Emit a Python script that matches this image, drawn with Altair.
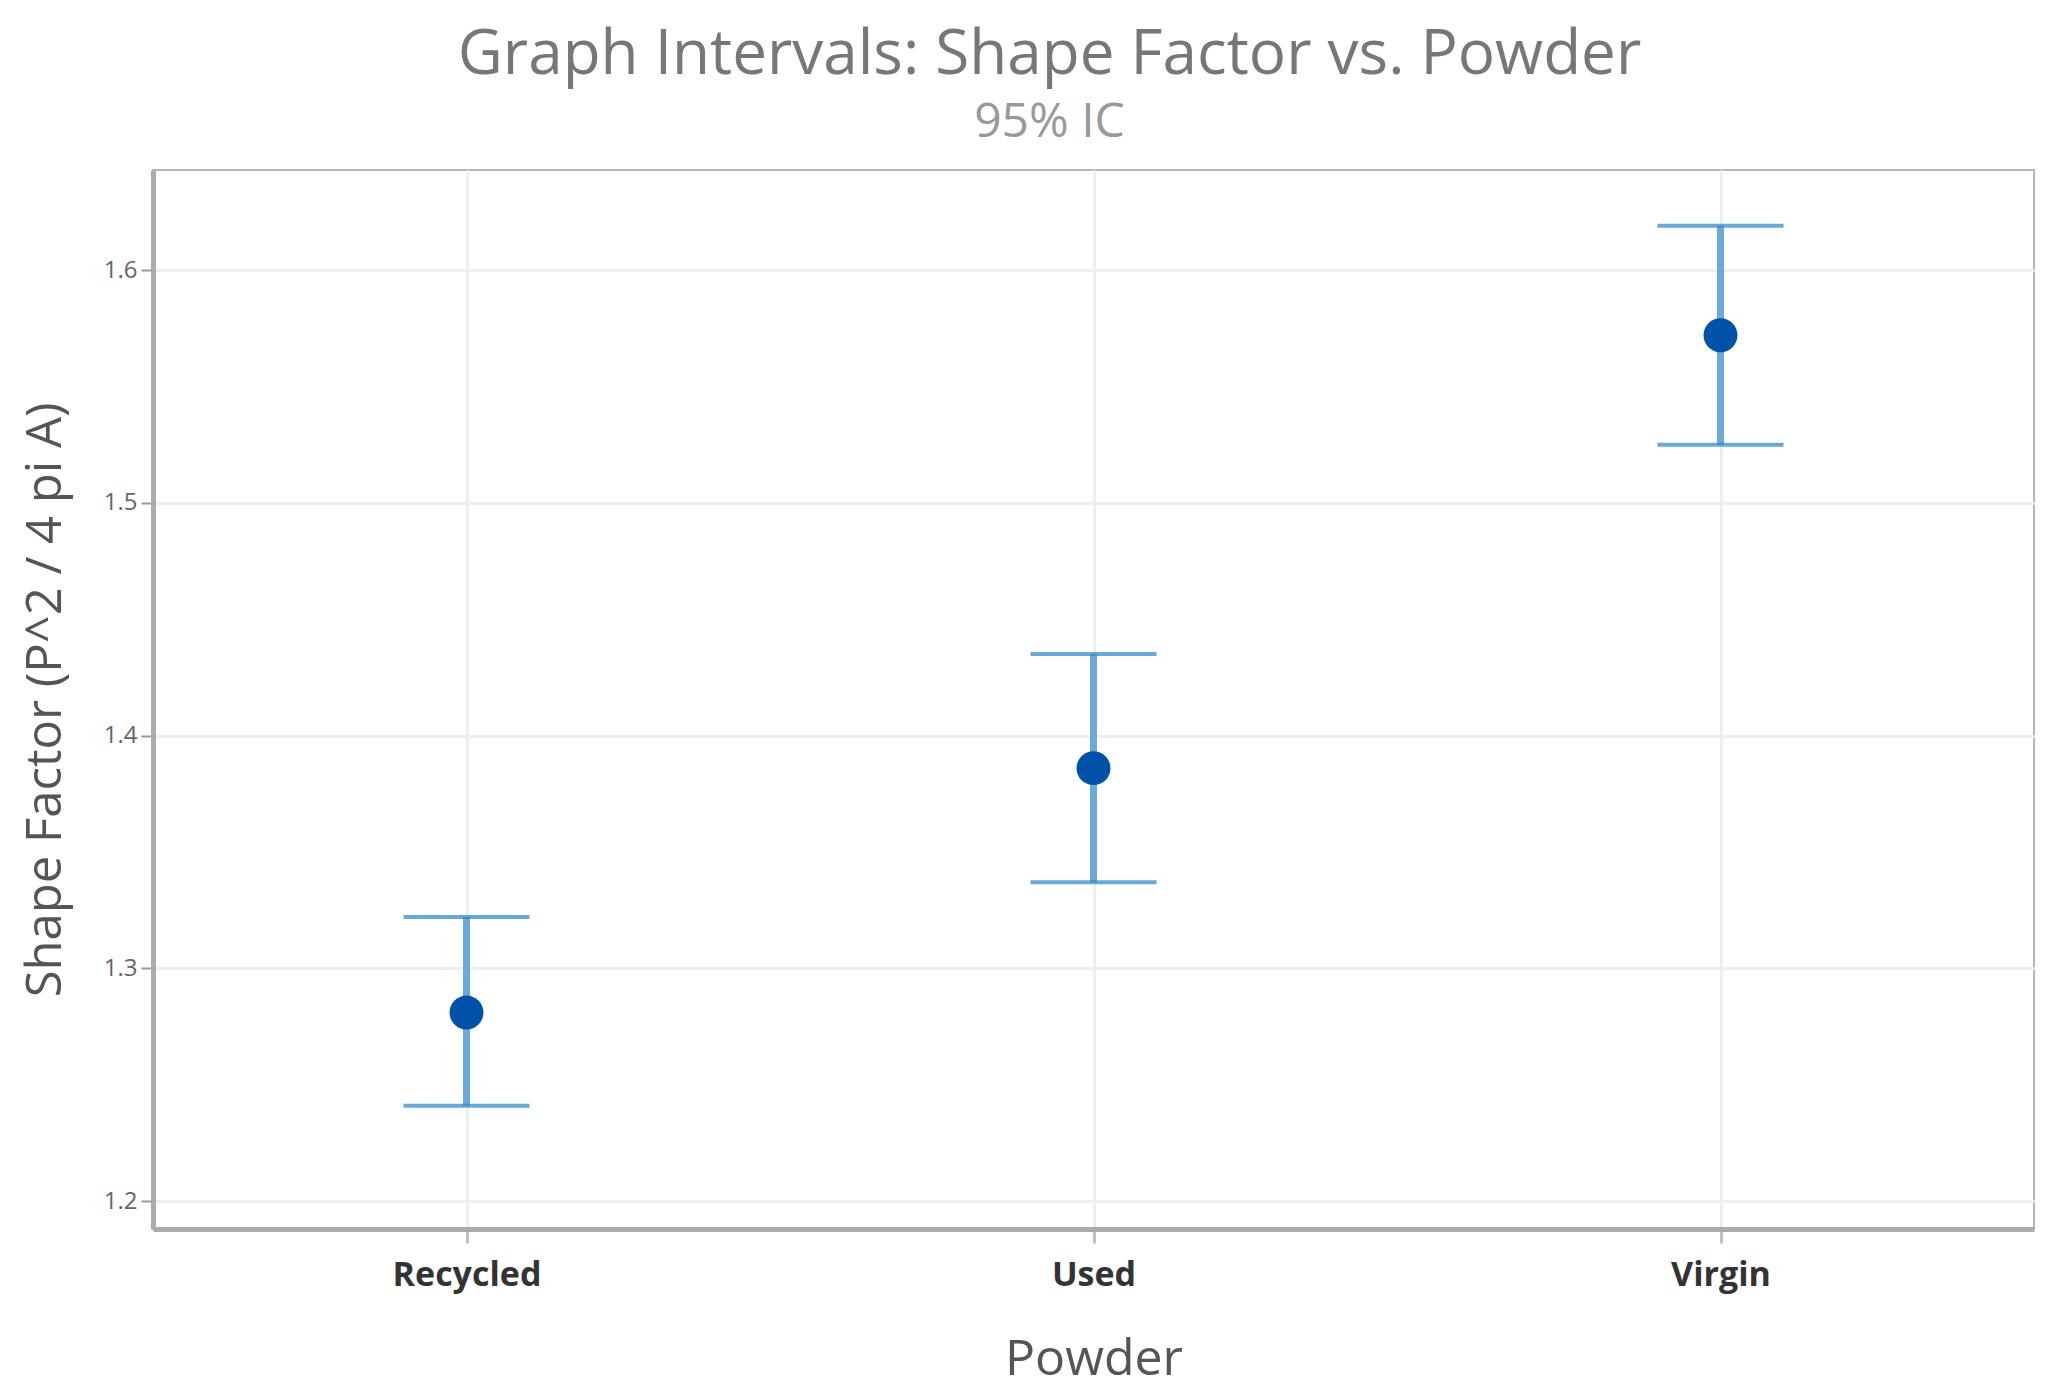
import altair as alt
import pandas as pd

powder = ["Recycled", "Used", "Virgin"]
mean_vals = [1.281, 1.386, 1.572]
lower_vals = [1.241, 1.337, 1.525]
upper_vals = [1.322, 1.435, 1.619]
y_ticks = [1.2, 1.3, 1.4, 1.5, 1.6]

df = pd.DataFrame({"Powder": powder, "mean": mean_vals, "lo": lower_vals, "hi": upper_vals})

FONT = "Open Sans"
x_enc = alt.X("Powder:N", sort=powder,
              scale=alt.Scale(type="point", padding=0.5),
              axis=alt.Axis(title="Powder", labelAngle=0, labelFontSize=34, labelColor="#333333",
                            labelFontWeight="bold", labelPadding=15, tickSize=14, tickColor="#c0c0c0",
                            tickWidth=3, titleFontSize=50, titleColor="#555555", titleFontWeight="normal",
                            titlePadding=42, grid=True, gridColor="#eeeeee", gridWidth=3,
                            domainColor="#ababab", domainWidth=5))
y_scale = alt.Scale(domain=[1.188, 1.643], nice=False, zero=False)
y_axis = alt.Axis(title="Shape Factor (P^2 / 4 pi A)", values=y_ticks, format=".1f",
                  labelFontSize=24, labelColor="#666666", labelPadding=4, tickSize=12,
                  tickColor="#999999", tickWidth=2, titleFontSize=49, titleColor="#555555",
                  titleFontWeight="normal", titlePadding=33, grid=True, gridColor="#eeeeee",
                  gridWidth=3, domainColor="#ababab", domainWidth=5)

base = alt.Chart(df)
rules = base.mark_rule(color="#6aaadb", strokeWidth=7).encode(
    x=x_enc, y=alt.Y("lo:Q", scale=y_scale, axis=y_axis), y2="hi:Q")
caps_hi = base.mark_tick(color="#2a84c8", orient="horizontal", size=126, thickness=4).encode(
    x=x_enc, y=alt.Y("hi:Q", scale=y_scale, axis=y_axis))
caps_lo = base.mark_tick(color="#2a84c8", orient="horizontal", size=126, thickness=4).encode(
    x=x_enc, y=alt.Y("lo:Q", scale=y_scale, axis=y_axis))
points = base.mark_circle(color="#0052a8", opacity=1, size=1150).encode(
    x=x_enc, y=alt.Y("mean:Q", scale=y_scale, axis=y_axis))

chart = (rules + caps_hi + caps_lo + points).properties(
    width=1881, height=1059,
    title=alt.TitleParams("Graph Intervals: Shape Factor vs. Powder", subtitle="95% IC",
                          fontSize=62, subtitleFontSize=48, color="#777777", subtitleColor="#999999",
                          fontWeight="normal", font=FONT, subtitleFont=FONT, anchor="middle",
                          frame="group", dx=-44, offset=22, subtitlePadding=12),
    padding={"left": 145, "top": 162, "right": 13, "bottom": 160},
    autosize=alt.AutoSizeParams(type="none"),
).configure(font=FONT).configure_view(stroke="#b5b5b5", strokeWidth=2)

chart.save("out.html", embed_options={"renderer": "svg", "actions": False})
